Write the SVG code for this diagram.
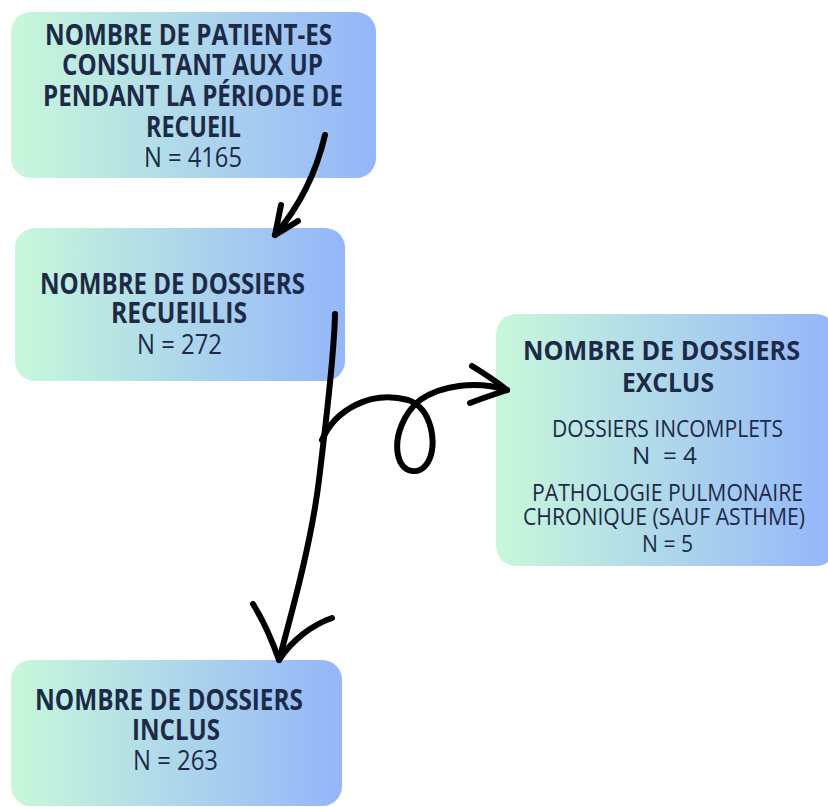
<svg xmlns="http://www.w3.org/2000/svg" width="828" height="807" viewBox="0 0 828 807">
<defs>
<linearGradient id="g" x1="0" y1="0" x2="1" y2="0">
<stop offset="0" stop-color="#c8f8da"/>
<stop offset="1" stop-color="#94b6fa"/>
</linearGradient>
<style>
.box{fill:url(#g)}
.b{font-family:"Open Sans","Liberation Sans",sans-serif;font-weight:bold;font-size:28px;fill:#1c2a48}
.r{font-family:"Open Sans","Liberation Sans",sans-serif;font-size:28px;fill:#1c2a48}
.s{font-family:"Open Sans","Liberation Sans",sans-serif;font-size:24px;fill:#1c2a48}
.bs{font-family:"Open Sans","Liberation Sans",sans-serif;font-weight:bold;font-size:26px;fill:#1c2a48}
.c{fill:none;stroke:#000;stroke-width:6;stroke-linecap:round;stroke-linejoin:round}
</style>
</defs>
<rect width="828" height="807" fill="#fff"/>
<g id="n1">
<rect class="box" x="11" y="12" width="365" height="166" rx="20"/>
<text class="b" x="45" y="45" textLength="287" lengthAdjust="spacingAndGlyphs">NOMBRE DE PATIENT-ES</text>
<text class="b" x="62" y="75" textLength="261" lengthAdjust="spacingAndGlyphs">CONSULTANT AUX UP</text>
<text class="b" x="43" y="106" textLength="300" lengthAdjust="spacingAndGlyphs">PENDANT LA PÉRIODE DE</text>
<text class="b" x="146" y="137" textLength="95" lengthAdjust="spacingAndGlyphs">RECUEIL</text>
<text class="r" x="144" y="167" textLength="98" lengthAdjust="spacingAndGlyphs">N = 4165</text>
</g>
<g id="n2">
<rect class="box" x="15" y="228" width="330" height="153" rx="20"/>
<text class="b" x="40" y="294" textLength="265" lengthAdjust="spacingAndGlyphs">NOMBRE DE DOSSIERS</text>
<text class="b" x="111" y="323" textLength="136" lengthAdjust="spacingAndGlyphs">RECUEILLIS</text>
<text class="r" x="137" y="354" textLength="85" lengthAdjust="spacingAndGlyphs">N = 272</text>
</g>
<g id="n3">
<rect class="box" x="496" y="314" width="340" height="252" rx="20"/>
<text class="bs" x="523" y="360" textLength="277" lengthAdjust="spacingAndGlyphs">NOMBRE DE DOSSIERS</text>
<text class="bs" x="622" y="392" textLength="92" lengthAdjust="spacingAndGlyphs">EXCLUS</text>
<text class="s" x="552" y="437" textLength="231" lengthAdjust="spacingAndGlyphs">DOSSIERS INCOMPLETS</text>
<text class="s" x="632" y="464" textLength="65" lengthAdjust="spacingAndGlyphs" xml:space="preserve">N  = 4</text>
<text class="s" x="532" y="501" textLength="271" lengthAdjust="spacingAndGlyphs">PATHOLOGIE PULMONAIRE</text>
<text class="s" x="523" y="525" textLength="282" lengthAdjust="spacingAndGlyphs">CHRONIQUE (SAUF ASTHME)</text>
<text class="s" x="642" y="552" textLength="51" lengthAdjust="spacingAndGlyphs">N = 5</text>
</g>
<g id="n4">
<rect class="box" x="11" y="660" width="331" height="146" rx="20"/>
<text class="b" x="35" y="710" textLength="268" lengthAdjust="spacingAndGlyphs">NOMBRE DE DOSSIERS</text>
<text class="b" x="132" y="740" textLength="88" lengthAdjust="spacingAndGlyphs">INCLUS</text>
<text class="r" x="133" y="770" textLength="85" lengthAdjust="spacingAndGlyphs">N = 263</text>
</g>
<g id="connectors">
<path class="c" d="M325,135 C318,165 305,200 275,235"/>
<path class="c" d="M281,205 C279,215 277,225 275,235 M298,221 C290,226 282,231 275,235"/>
<path class="c" stroke-width="7.5" d="M335,314 C334,360 326,420 319,480 C311,545 291,615 279,660"/>
<path class="c" stroke-width="7" d="M253,604 C263,620 272,640 279,660 M332,618 C312,625 292,640 279,660"/>
<path class="c" d="M322,440 C335,410 370,390 408,400 C432,408 438,445 428,462 C420,476 402,474 398,455 C394,435 405,412 420,400 C440,386 475,380 507,390"/>
<path class="c" d="M472,366 C485,374 497,382 507,390 M470,403 C483,398 495,394 507,390"/>
</g>
</svg>
